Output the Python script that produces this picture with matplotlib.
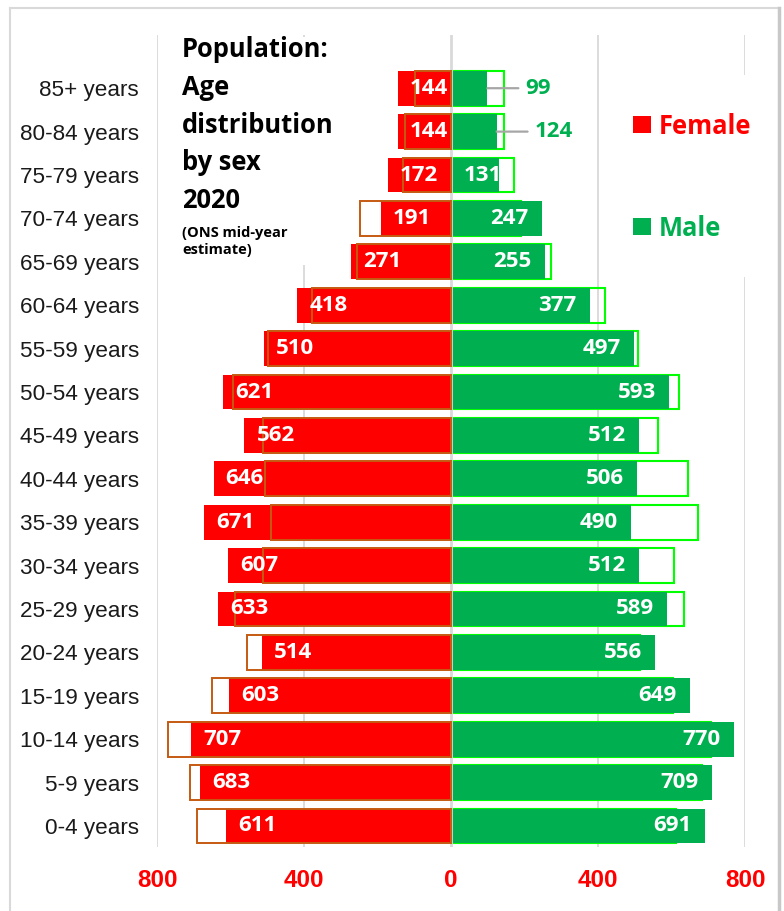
import matplotlib
matplotlib.use("Agg")
import matplotlib.pyplot as plt
from matplotlib.patches import Rectangle
import numpy as np

# ---- data (bottom to top) ----
categories = ['0-4 years', '5-9 years', '10-14 years', '15-19 years', '20-24 years',
              '25-29 years', '30-34 years', '35-39 years', '40-44 years', '45-49 years',
              '50-54 years', '55-59 years', '60-64 years', '65-69 years', '70-74 years',
              '75-79 years', '80-84 years', '85+ years']
female = [611, 683, 707, 603, 514, 633, 607, 671, 646, 562, 621, 510, 418, 271, 191, 172, 144, 144]
male = [691, 709, 770, 649, 556, 589, 512, 490, 506, 512, 593, 497, 377, 255, 247, 131, 124, 99]
tick_values = [-800, -400, 0, 400, 800]
tick_labels = ['800', '400', '0', '400', '800']

W, H = 784, 911
fig = plt.figure(figsize=(W / 100, H / 100), dpi=100)
fig.patch.set_facecolor('white')

def fx(px):
    return px / W

def fy(py):
    return 1 - py / H

ax_left, ax_right, ax_top, ax_bot = 157, 745, 35, 847
ax = fig.add_axes([fx(ax_left), fy(ax_bot), (ax_right - ax_left) / W, (ax_bot - ax_top) / H])
ax.set_xlim(-800, 800)
ax.set_ylim(-0.484, 18.226)
for s in ax.spines.values():
    s.set_visible(False)

y = np.arange(len(categories))
fem = np.array(female)
mal = np.array(male)

RED = '#FF0000'
GREEN = '#00B050'
FOUT = '#C55A11'
MOUT = '#00FF00'
GRID = '#D9D9D9'

# gridlines
for v in tick_values:
    if v != 0:
        ax.axvline(v, color=GRID, lw=1.3, zorder=0.5)

# white boxes of title and legend covering gridlines
ax.add_patch(Rectangle((fx(175), fy(265)), fx(345) - fx(175), fy(37) - fy(265),
                       transform=fig.transFigure, facecolor='white', edgecolor='none',
                       zorder=0.8, clip_on=False))
ax.add_patch(Rectangle((fx(720), fy(277)), fx(772) - fx(720), fy(75) - fy(277),
                       transform=fig.transFigure, facecolor='white', edgecolor='none',
                       zorder=0.8, clip_on=False))

bh = 0.8
# male-side outline (female values) sits behind the green fill
ax.barh(y, fem, height=bh, fill=False, edgecolor=MOUT, lw=1.5, zorder=1.5)
ax.barh(y, -fem, height=bh, color=RED, zorder=2)
ax.barh(y, mal, height=bh, color=GREEN, zorder=2)
ax.axvline(0, color=GRID, lw=2.0, zorder=2.5)
# female-side outline (male values) drawn over the red fill
ax.barh(y, -mal, height=bh, fill=False, edgecolor=FOUT, lw=1.4, zorder=3)

label_font = dict(family='Open Sans', weight='bold', size=16)
px_per_unit = (ax_right - ax_left) / 1600.0

for i in range(len(categories)):
    # female labels
    ax.annotate(str(female[i]), xy=(-female[i], y[i]), xytext=(12, 0),
                textcoords='offset pixels', ha='left', va='center',
                color='white', zorder=5, **label_font)
    # male labels
    bar_px = male[i] * px_per_unit
    if male[i] < 130:
        ax.annotate('', xy=(male[i], y[i]), xytext=(31, 0), textcoords='offset pixels',
                    arrowprops=dict(arrowstyle='-', color='#A6A6A6', lw=1.6,
                                    shrinkA=0, shrinkB=0), zorder=5)
        ax.annotate(str(male[i]), xy=(male[i], y[i]), xytext=(38, 0),
                    textcoords='offset pixels', ha='left', va='center',
                    color=GREEN, zorder=5, **label_font)
    elif bar_px < 70:
        ax.annotate(str(male[i]), xy=(0, y[i]), xytext=(13, 0),
                    textcoords='offset pixels', ha='left', va='center',
                    color='white', zorder=5, **label_font)
    else:
        ax.annotate(str(male[i]), xy=(male[i], y[i]), xytext=(-13, 0),
                    textcoords='offset pixels', ha='right', va='center',
                    color='white', zorder=5, **label_font)

ax.set_yticks(y)
ax.set_yticklabels(categories, family='Liberation Sans', size=16.2, color='#1a1a1a')
ax.tick_params(axis='y', length=0, pad=13)
ax.set_xticks(tick_values)
ax.set_xticklabels(tick_labels, family='Liberation Sans', weight='bold', size=17.5, color=RED)
ax.tick_params(axis='x', length=0, pad=16)

# title
title_lines = ['Population:', 'Age', 'distribution', 'by sex', '2020']
baselines = [57, 95, 133, 170, 208]
for t, b in zip(title_lines, baselines):
    fig.text(fx(182), fy(b), t, family='Open Sans', weight='bold', size=18.4,
             color='black', va='baseline', ha='left')
fig.text(fx(182), fy(237), '(ONS mid-year', family='Open Sans', weight='bold', size=10.5,
         color='black', va='baseline', ha='left')
fig.text(fx(182), fy(254), 'estimate)', family='Open Sans', weight='bold', size=10.5,
         color='black', va='baseline', ha='left')

# legend
fig.patches.append(Rectangle((fx(633), fy(133)), fx(651) - fx(633), fy(116) - fy(133),
                             transform=fig.transFigure, facecolor=RED, edgecolor='none'))
fig.patches.append(Rectangle((fx(633), fy(235)), fx(651) - fx(633), fy(218) - fy(235),
                             transform=fig.transFigure, facecolor=GREEN, edgecolor='none'))
fig.text(fx(659), fy(134), 'Female', family='Open Sans', weight='bold', size=18.4,
         color=RED, va='baseline', ha='left')
fig.text(fx(659), fy(236), 'Male', family='Open Sans', weight='bold', size=18.4,
         color=GREEN, va='baseline', ha='left')

# outer frame
fig.lines.append(plt.Line2D([fx(10), fx(10)], [fy(8), 0], transform=fig.transFigure,
                            color=GRID, lw=1.5))
fig.lines.append(plt.Line2D([fx(10), fx(778)], [fy(8), fy(8)], transform=fig.transFigure,
                            color=GRID, lw=1.5))
fig.lines.append(plt.Line2D([fx(779), fx(779)], [fy(8), 0], transform=fig.transFigure,
                            color='#C8C8C8', lw=2.5))

fig.savefig('out.png', dpi=100, facecolor='white')
